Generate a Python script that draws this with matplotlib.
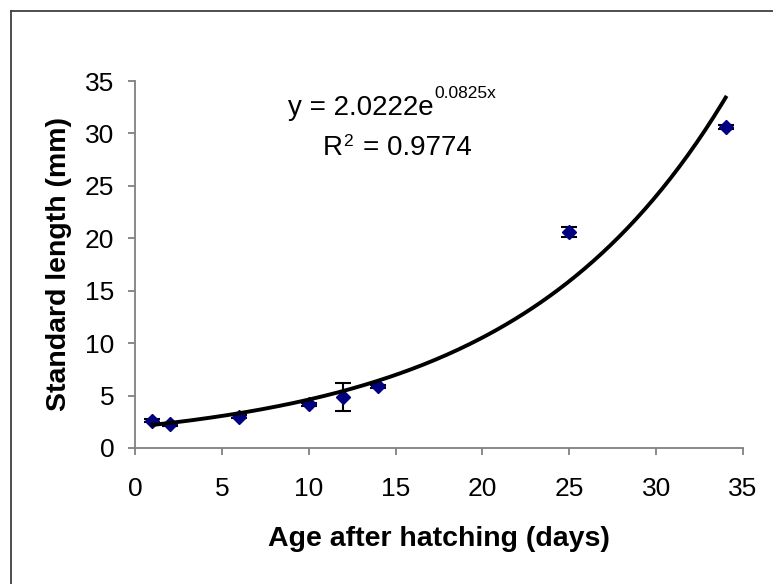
import numpy as np
import matplotlib.pyplot as plt
from matplotlib.lines import Line2D

plt.rcParams["font.family"] = ["Liberation Sans", "DejaVu Sans"]

# mean standard length per sampling day, with error
age = [1, 2, 6, 10, 12, 14, 25, 34]
length = [2.6, 2.25, 3.0, 4.15, 4.85, 5.9, 20.6, 30.6]
length_err = [0.15, 0.15, 0.15, 0.15, 1.35, 0.15, 0.5, 0.2]

# exponential fit  y = a * exp(b x)
fit_a = 2.0222
fit_b = 0.0825
fit_r2 = 0.9774

fig = plt.figure(figsize=(7.73, 5.84), dpi=100)
ax = fig.add_axes([0.1746, 0.2329, 0.7866, 0.6284])

ax.errorbar(age, length, yerr=length_err, fmt="none", ecolor="black",
            elinewidth=1.5, capsize=5.5, capthick=1.5, zorder=2)
ax.plot(age, length, linestyle="none", marker="D", markersize=7.5,
        color="#000080", zorder=3)

xs = np.linspace(min(age), max(age), 200)
ax.plot(xs, fit_a * np.exp(fit_b * xs), color="black", linewidth=2.8, zorder=4)

ax.set_xlim(0, 35)
ax.set_ylim(0, 35)
ax.set_xticks(range(0, 36, 5))
ax.set_yticks(range(0, 36, 5))

for side in ["top", "right"]:
    ax.spines[side].set_visible(False)
for side in ["left", "bottom"]:
    ax.spines[side].set_color("#808080")
    ax.spines[side].set_linewidth(1.3)
ax.tick_params(direction="out", length=5, width=1.3, color="#808080",
               labelsize=19)
ax.tick_params(axis="y", pad=10)
ax.tick_params(axis="x", pad=16)

ax.set_xlabel("Age after hatching (days)", fontsize=20.5, fontweight="bold",
              labelpad=18)
ax.set_ylabel("Standard length (mm)", fontsize=20.5, fontweight="bold",
              labelpad=9)

# trendline equation, exponent set as a small raised text
eq = ax.text(8.8, 31.8, "y = %.4fe" % fit_a, fontsize=20, va="baseline")
ax.annotate("%.4fx" % fit_b, xy=(1, 0), xycoords=eq, xytext=(0.5, 16),
            textcoords="offset points", fontsize=12.5, va="baseline")
r2 = ax.text(10.8, 27.9, "R", fontsize=20, va="baseline")
ax.annotate("2", xy=(1, 0), xycoords=r2, xytext=(0.5, 11),
            textcoords="offset points", fontsize=12.5, va="baseline")
ax.text(13.1, 27.9, "= %.4f" % fit_r2, fontsize=20, va="baseline")

# chart area border (only left and top edges fall inside the image)
fx = 10.5 / 773
fy = 1 - 11 / 584
fig.add_artist(Line2D([fx, fx], [0, fy], color="#404040", linewidth=1.3,
                      transform=fig.transFigure))
fig.add_artist(Line2D([fx, 1], [fy, fy], color="#404040", linewidth=1.3,
                      transform=fig.transFigure))

fig.savefig("out.png", dpi=100)
